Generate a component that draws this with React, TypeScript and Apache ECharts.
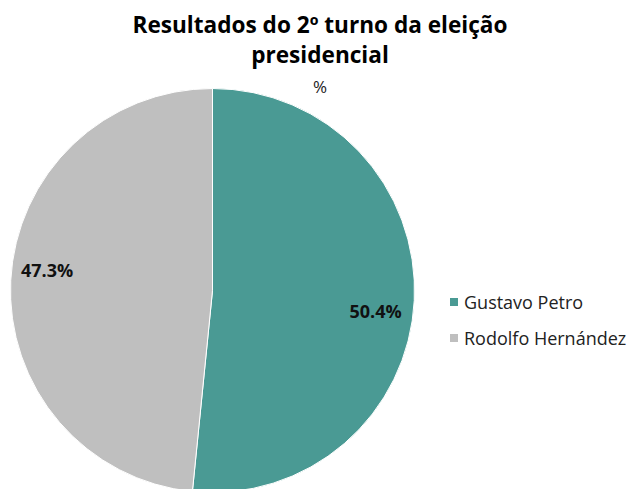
import React, { useEffect, useRef } from "react";
import * as echarts from "echarts";

const candidates = ["Gustavo Petro", "Rodolfo Hernández"];
const shares = [50.4, 47.3];
const colors = ["#4A9A94", "#BFBFBF"];

const FONT = "'Open Sans', 'Noto Sans', sans-serif";

export default function App() {
  const ref = useRef<HTMLDivElement>(null);
  useEffect(() => {
    document.body.style.margin = "0";
    const chart = echarts.init(ref.current!, null, { renderer: "svg" });
    const data = candidates.map((n, i) => ({ name: n, value: shares[i], itemStyle: { color: colors[i] } }));
    chart.setOption({
      animation: false,
      backgroundColor: "#fff",
      title: {
        text: "Resultados do 2º turno da eleição\npresidencial",
        subtext: "%",
        left: 315,
        textAlign: "center",
        top: 4,
        itemGap: 9,
        textStyle: { fontFamily: FONT, fontSize: 22.6, fontWeight: "bold", color: "#000", lineHeight: 30 },
        subtextStyle: { fontFamily: FONT, fontSize: 17, color: "#222" },
      },
      legend: {
        orient: "vertical",
        left: 443,
        top: 288,
        itemWidth: 10,
        itemHeight: 10,
        itemGap: 18,
        icon: "rect",
        data: candidates,
        textStyle: { fontFamily: FONT, fontSize: 18, color: "#222" },
      },
      series: [
        {
          type: "pie",
          center: [212.5, 290.5],
          radius: [0, 202],
          startAngle: 90,
          clockwise: true,
          data,
          label: { show: false },
          labelLine: { show: false },
          itemStyle: { borderColor: "#fff", borderWidth: 1 },
          silent: true,
        },
        {
          type: "pie",
          center: [212.5, 290.5],
          radius: [128, 202],
          startAngle: 90,
          clockwise: true,
          data: candidates.map((n, i) => ({ name: n, value: shares[i] })),
          itemStyle: { color: "rgba(0,0,0,0)" },
          silent: true,
          legendHoverLink: false,
          label: {
            show: true,
            position: "inside",
            formatter: (p: any) => {
              const t = p.value.toFixed(1) + "%";
              return p.dataIndex === 0 ? "\n" + t + "  " : " " + t + "\n";
            },
            lineHeight: 25,
            fontFamily: FONT,
            fontSize: 18,
            fontWeight: "bold",
            color: "#111",
          },
          labelLine: { show: false },
        },
      ],
    });
    return () => chart.dispose();
  }, []);
  return <div ref={ref} style={{ width: 631, height: 489 }} />;
}
